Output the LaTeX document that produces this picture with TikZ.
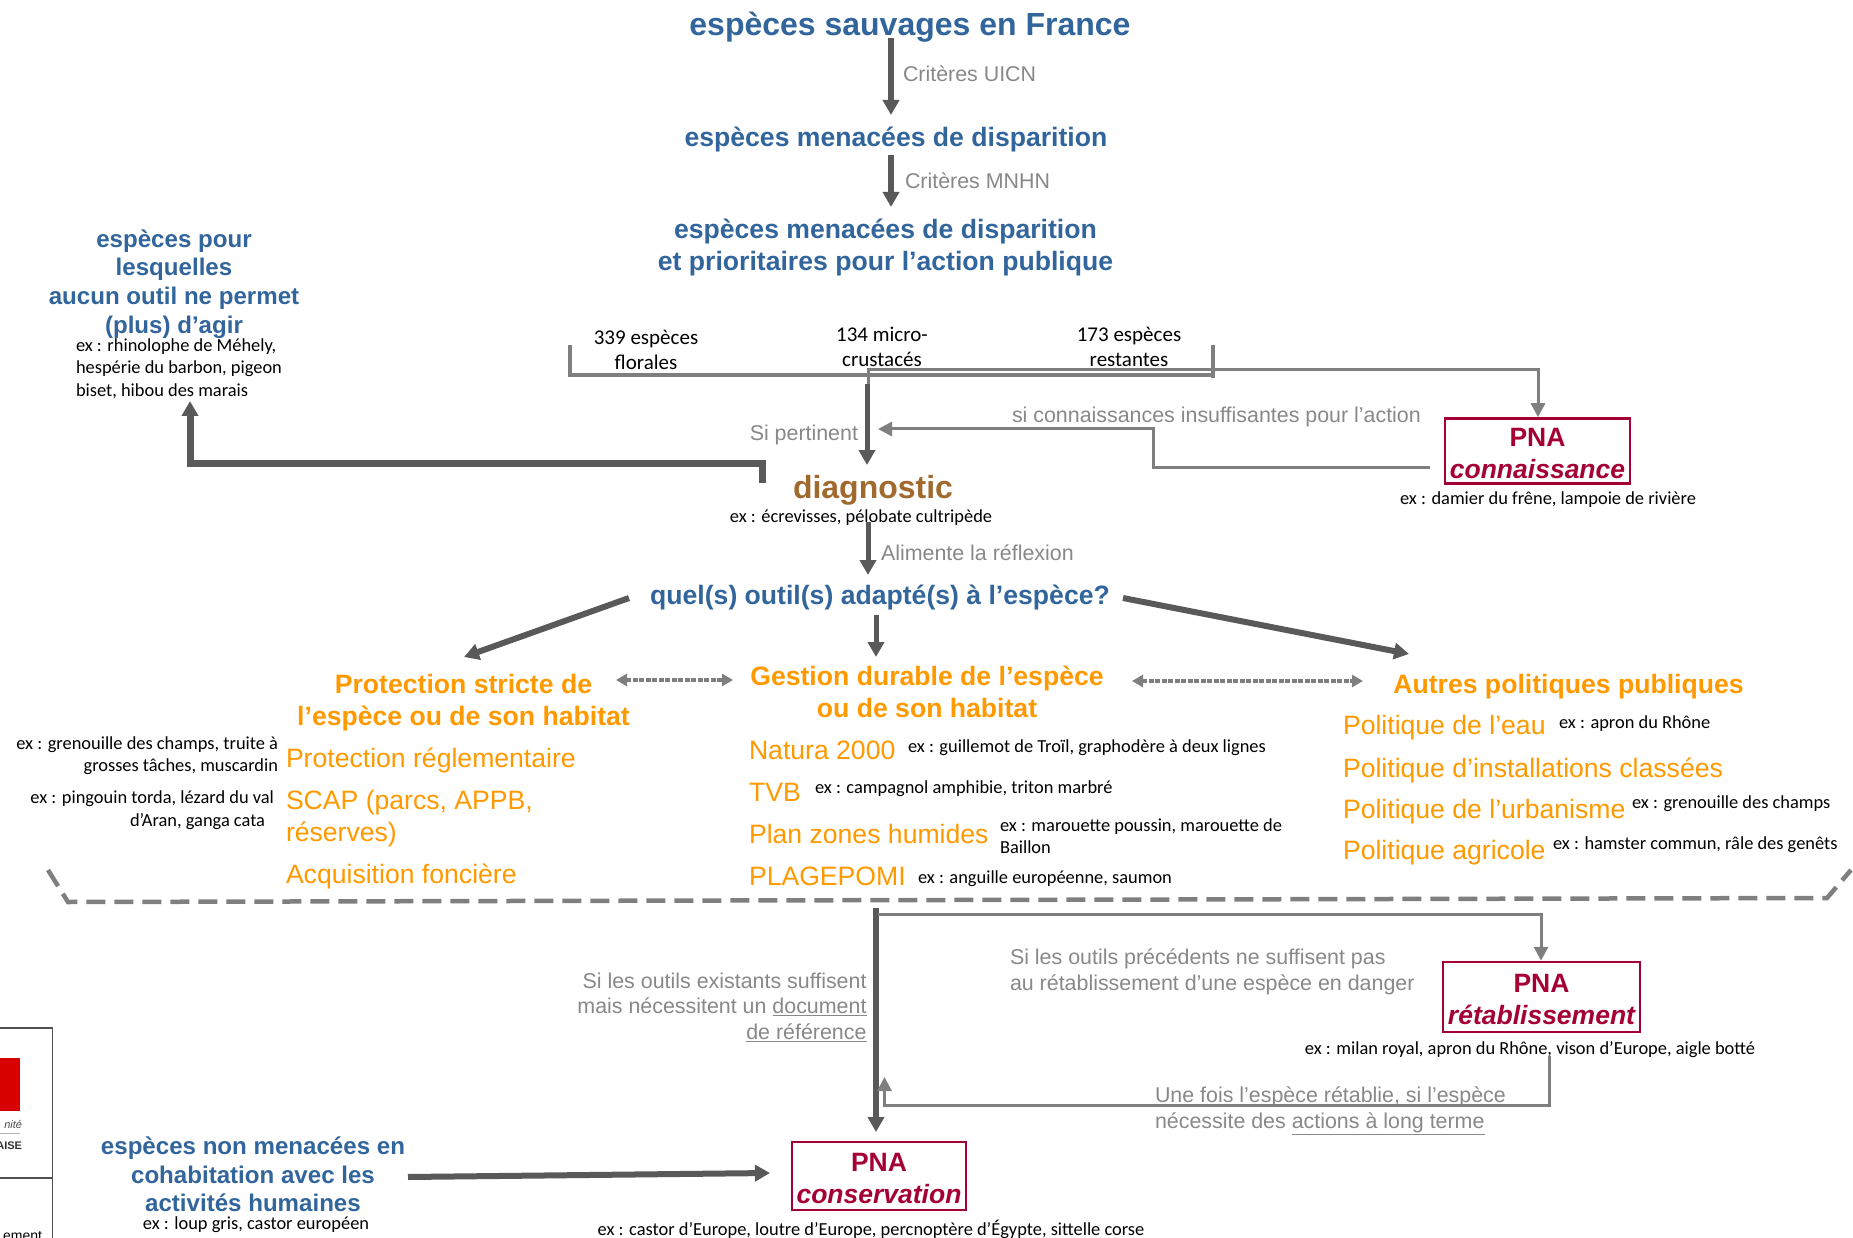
\documentclass[tikz,border=0pt]{standalone}
\usepackage{fontspec}
\setmainfont{Liberation Sans}
\newfontfamily\exfont{Carlito}
\usetikzlibrary{arrows.meta}
\definecolor{bluet}{HTML}{31659C}
\definecolor{oran}{HTML}{FF9900}
\definecolor{redp}{HTML}{A50034}
\definecolor{brownd}{HTML}{A0692E}
\definecolor{darkg}{HTML}{595959}
\definecolor{midg}{HTML}{7F7F7F}
\definecolor{labg}{HTML}{888888}
\tikzset{
  x=1pt,y=-1pt,
  txt/.style={inner sep=0pt,outer sep=0pt},
  titleb/.style={txt,align=center,text=bluet,font=\bfseries\fontsize{26.6}{32}\selectfont},
  titlec/.style={txt,align=center,text=bluet,font=\bfseries\fontsize{24.1}{28.7}\selectfont},
  orangeb/.style={txt,align=center,text=oran,font=\bfseries\fontsize{26.6}{32}\selectfont},
  orangel/.style={txt,anchor=west,align=left,text=oran,font=\fontsize{26.6}{32}\selectfont},
  exnote/.style={txt,align=left,text=black,font=\exfont\fontsize{18.4}{22.5}\selectfont},
  count/.style={txt,align=center,text=black,font=\exfont\fontsize{21}{25}\selectfont},
  lab/.style={txt,text=labg,font=\fontsize{21.4}{25.5}\selectfont},
  pna/.style={draw=redp,line width=2.5pt,inner sep=0pt,align=center,text=redp,font=\bfseries\fontsize{26.5}{32}\selectfont},
  thick arrow/.style={draw=darkg,line width=#1,-{Triangle[length=15pt,width=16pt]}},
  thin arrow/.style={draw=midg,line width=3pt,-{Triangle[length=14pt,width=14pt]}},
  dbl arrow/.style={draw=midg,line width=4.5pt,dash pattern=on 5pt off 1.5pt,{Triangle[length=11pt,width=12pt]}-{Triangle[length=11pt,width=12pt]}},
  bracket/.style={draw=midg,line width=4pt},
  sep line/.style={draw=midg,line width=4.5pt,dash pattern=on 19pt off 9pt},
}
\begin{document}
\begin{tikzpicture}
\useasboundingbox (0,0) rectangle (1853,1238);
\clip (0,0) rectangle (1853,1238);
% logo fragment
\fill[red!85!black] (-5,1058) rectangle (20,1111);
\draw[darkg!90!black,line width=1.5pt] (-5,1028) -- (52.5,1028) -- (52.5,1243);
\draw[darkg!90!black,line width=1.5pt] (-5,1178) -- (52.5,1178);
\draw[gray!60,line width=1pt] (-5,1133) -- (20,1133);
\node[txt,anchor=east,font=\rmfamily\itshape\fontsize{11}{11}\selectfont,text=black!70] (logoa) at (22,1124) {nité};
\node[txt,anchor=east,font=\bfseries\fontsize{11}{11}\selectfont,text=black!80] (logob) at (22,1146) {AISE};
\node[txt,anchor=east,font=\fontsize{14}{14}\selectfont,text=black] (logoc) at (42,1236) {ement};
% titles
\node[titleb,font=\bfseries\fontsize{32}{32}\selectfont] (t1) at (910,27) {espèces sauvages en France};
\node[titleb] (t2) at (896,140) {espèces menacées de disparition};
\node[titleb] (t3) at (885.5,248) {espèces menacées de disparition\\et prioritaires pour l’action publique};
\node[titlec] (t4) at (174,284) {espèces pour\\lesquelles\\aucun outil ne permet\\(plus) d’agir};
\node[exnote,anchor=north west] (n4) at (76,338.5) {ex : rhinolophe de Méhely,\\hespérie du barbon, pigeon\\biset, hibou des marais};
\node[lab,anchor=west] (l1) at (903,74) {Critères UICN};
\node[lab,anchor=west] (l2) at (905,181) {Critères MNHN};
\node[count] (c1) at (646,350) {339 espèces\\florales};
\node[count] (c2) at (882,347) {134 micro-\\crustacés};
\node[count] (c3) at (1129,347) {173 espèces\\restantes};
\node[lab,anchor=east] (l3) at (858,435) {Si pertinent};
\node[lab,anchor=west] (l4) at (1012,417) {si connaissances insuffisantes pour l’action};
\node[pna,minimum width=185pt,minimum height=65pt] (pc) at (1537.5,451) {\rule{0pt}{23pt}PNA\\\itshape connaissance};
\node[exnote] (n5) at (1548,500) {ex : damier du frêne, lampoie de rivière};
\node[txt,text=brownd,font=\bfseries\fontsize{32}{32}\selectfont] (diag) at (873,490) {diagnostic};
\node[exnote] (n6) at (861,518) {ex : écrevisses, pélobate cultripède};
\node[lab,anchor=west] (l5) at (881,553) {Alimente la réflexion};
\node[titleb] (q) at (880,598) {quel(s) outil(s) adapté(s) à l’espèce?};
% columns
\node[orangeb] (o1) at (463.5,703) {Protection stricte de\\l’espèce ou de son habitat};
\node[orangeb] (o2) at (927,692) {Gestion durable de l’espèce\\ou de son habitat};
\node[orangeb] (o3) at (1568.5,687) {Autres politiques publiques};
\node[orangel] (p1) at (286,760) {Protection réglementaire};
\node[orangel] (p2) at (286,819) {SCAP (parcs, APPB,\\réserves)};
\node[orangel] (p3) at (286,876) {Acquisition foncière};
\node[orangel] (g1) at (749,750) {Natura 2000};
\node[orangel] (g2) at (749,792) {TVB};
\node[orangel] (g3) at (749,834) {Plan zones humides};
\node[orangel] (g4) at (749,876) {PLAGEPOMI};
\node[orangel] (a1) at (1343,728) {Politique de l’eau};
\node[orangel] (a2) at (1343,770) {Politique d’installations classées};
\node[orangel] (a3) at (1343,812) {Politique de l’urbanisme};
\node[orangel] (a4) at (1343,853) {Politique agricole};
\node[exnote,align=right,anchor=east] (e1) at (278,755.5) {ex : grenouille des champs, truite à\\grosses tâches, muscardin};
\node[exnote,align=right,anchor=east] (e2) at (274,810) {ex : pingouin torda, lézard du val\\d’Aran, ganga cata\hspace*{9pt}};
\node[exnote,anchor=west] (e3) at (908,748) {ex : guillemot de Troïl, graphodère à deux lignes};
\node[exnote,anchor=west] (e4) at (815,789) {ex : campagnol amphibie, triton marbré};
\node[exnote,anchor=west] (e5) at (1000,836) {ex : marouette poussin, marouette de\\Baillon};
\node[exnote,anchor=west] (e6) at (918,879) {ex : anguille européenne, saumon};
\node[exnote,anchor=west] (e7) at (1559,724) {ex : apron du Rhône};
\node[exnote,anchor=west] (e8) at (1632,804) {ex : grenouille des champs};
\node[exnote,anchor=west] (e9) at (1553,845) {ex : hamster commun, râle des genêts};
% lower part
\node[lab,align=right,anchor=east] (l6) at (866.5,1007) {Si les outils existants suffisent\\mais nécessitent un \underline{document}\\\underline{de référence}};
\node[lab,align=left,anchor=west] (l7) at (1010,972) {Si les outils précédents ne suffisent pas\\au rétablissement d’une espèce en danger};
\node[pna,minimum width=197pt,minimum height=70pt] (pr) at (1541.5,997) {\rule{0pt}{23pt}PNA\\\itshape rétablissement};
\node[exnote] (n7) at (1530,1050) {ex : milan royal, apron du Rhône, vison d’Europe, aigle botté};
\node[lab,align=left,anchor=west] (l8) at (1155,1111) {Une fois l’espèce rétablie, si l’espèce\\nécessite des \underline{actions à long terme}};
\node[pna,minimum width=174pt,minimum height=68pt] (pv) at (879,1176) {\rule{0pt}{23pt}PNA\\\itshape conservation};
\node[exnote] (n8) at (871,1229) {ex : castor d’Europe, loutre d’Europe, percnoptère d’Égypte, sittelle corse};
\node[titlec] (t5) at (253,1174.5) {espèces non menacées en\\cohabitation avec les\\activités humaines};
\node[exnote] (n9) at (256,1225) {ex : loup gris, castor européen};
% named free ends
\coordinate (s1) at (891,38);   \coordinate (e1a) at (891,115);
\coordinate (s2) at (891,155);  \coordinate (e2a) at (891,207);
\coordinate (bl) at (570,345); \coordinate (blc) at (570,375);
\coordinate (br) at (1213,345); \coordinate (brc) at (1213,375);
\coordinate (bt) at (1213,378);
\coordinate (th) at (868,400); \coordinate (thc) at (868,370);
\coordinate (tc) at (1538,370);
\coordinate (ds) at (867,384); \coordinate (dd) at (867,465);
\coordinate (ks) at (1430,467); \coordinate (kc) at (1153,467); \coordinate (kd) at (1153,429); \coordinate (ke) at (878,429);
\coordinate (ls) at (762,483); \coordinate (lc) at (762,463); \coordinate (lb) at (190,463); \coordinate (le) at (190,401);
\coordinate (qs) at (868,522); \coordinate (qe) at (868,575);
\coordinate (qa) at (629,598); \coordinate (qb) at (464,657);
\coordinate (qc) at (876,615); \coordinate (qd) at (876,657);
\coordinate (qf) at (1123,598); \coordinate (qg) at (1409,654);
\coordinate (da) at (616,680); \coordinate (db) at (733,680);
\coordinate (dc) at (1132,681); \coordinate (de) at (1363,681);
\coordinate (sa) at (48,870); \coordinate (sb) at (68,902); \coordinate (sc) at (1827,898); \coordinate (se) at (1851,870);
\coordinate (vs) at (876,908); \coordinate (ve) at (876,1132);
\coordinate (rs) at (878,914); \coordinate (rc) at (1541,914);
\coordinate (us) at (1549,1056); \coordinate (uc) at (1549,1105); \coordinate (ub) at (884.5,1105); \coordinate (ue) at (884.5,1077);
\coordinate (ws) at (408,1177); \coordinate (we) at (770,1173);
% connectors
\path[thick arrow=6pt] (s1) -- (e1a);
\path[thick arrow=6pt] (s2) -- (e2a);
\path[bracket] (bl) -- (blc) -- (brc);
\path[bracket] (br) -- (bt);
\path[thin arrow] (th) -- (thc) -- (tc) -- (pc.north -| tc);
\path[thick arrow=5pt] (ds) -- (dd);
\path[thin arrow] (ks) -- (kc) -- (kd) -- (ke);
\path[thick arrow=7pt] (ls) -- (lc) -- (lb) -- (le);
\path[thick arrow=5pt] (qs) -- (qe);
\path[thick arrow=6pt] (qa) -- (qb);
\path[thick arrow=5pt] (qc) -- (qd);
\path[thick arrow=6pt] (qf) -- (qg);
\path[dbl arrow] (da) -- (db);
\path[dbl arrow] (dc) -- (de);
\path[sep line] (sa) -- (sb) -- (sc) -- (se);
\path[thick arrow=6pt] (vs) -- (ve);
\path[thin arrow] (rs) -- (rc) -- (pr.north -| rc);
\path[thin arrow] (us) -- (uc) -- (ub) -- (ue);
\path[thick arrow=6pt] (ws) -- (we);
\end{tikzpicture}
\end{document}
